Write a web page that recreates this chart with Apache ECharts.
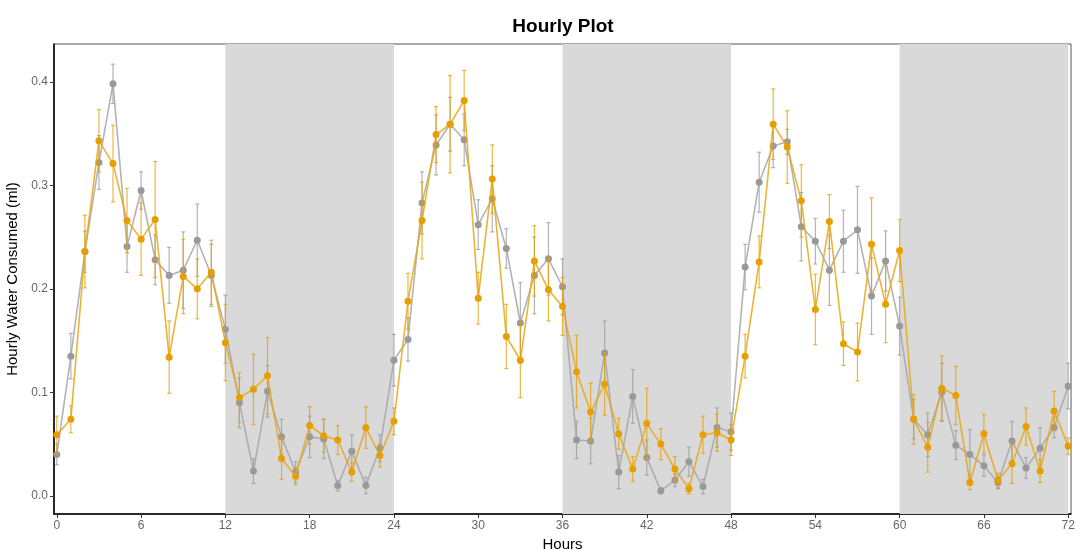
<!DOCTYPE html>
<html>
<head>
<meta charset="utf-8">
<script src="https://cdn.jsdelivr.net/npm/echarts@6/dist/echarts.min.js"></script>
<style>
  html, body { margin: 0; padding: 0; background: #fff; }
  #chart { width: 1076px; height: 551px; }
</style>
</head>
<body>
<div id="chart"></div>
<script>
// hours 0..72
const hours = Array.from({ length: 73 }, (_, i) => i);
const xTicks = [0, 6, 12, 18, 24, 30, 36, 42, 48, 54, 60, 66, 72];
const yTicks = [0, 0.1, 0.2, 0.3, 0.4];
// dark phases
const darkPeriods = [[12, 24], [36, 48], [60, 72]];

// grey group: mean and error
const greyMean = [
  0.040, 0.135, 0.236, 0.322, 0.398, 0.241, 0.295, 0.228, 0.213, 0.218, 0.247, 0.213,
  0.161, 0.090, 0.024, 0.101, 0.057, 0.023, 0.057, 0.055, 0.010, 0.043, 0.010, 0.046,
  0.131, 0.151, 0.283, 0.339, 0.359, 0.344, 0.262, 0.287, 0.239, 0.167, 0.213, 0.229,
  0.202, 0.054, 0.053, 0.138, 0.023, 0.096, 0.037, 0.005, 0.015, 0.033, 0.009, 0.066,
  0.062, 0.221, 0.303, 0.338, 0.342, 0.260, 0.246, 0.218, 0.246, 0.257, 0.193, 0.227,
  0.164, 0.074, 0.059, 0.100, 0.049, 0.040, 0.029, 0.013, 0.053, 0.027, 0.046, 0.066,
  0.106
];
const greyErr = [
  0.010, 0.022, 0.020, 0.026, 0.019, 0.025, 0.018, 0.024, 0.027, 0.037, 0.035, 0.030,
  0.033, 0.024, 0.012, 0.025, 0.017, 0.010, 0.020, 0.019, 0.005, 0.016, 0.008, 0.013,
  0.025, 0.021, 0.030, 0.029, 0.026, 0.025, 0.024, 0.032, 0.019, 0.039, 0.037, 0.035,
  0.027, 0.018, 0.022, 0.031, 0.016, 0.026, 0.017, 0.003, 0.006, 0.014, 0.007, 0.019,
  0.018, 0.022, 0.029, 0.021, 0.012, 0.033, 0.022, 0.034, 0.030, 0.042, 0.037, 0.029,
  0.028, 0.019, 0.021, 0.028, 0.014, 0.024, 0.010, 0.006, 0.019, 0.010, 0.020, 0.010,
  0.022
];

// orange group: mean and error
const orangeMean = [
  0.059, 0.074, 0.236, 0.343, 0.321, 0.266, 0.248, 0.267, 0.134, 0.212, 0.200, 0.216,
  0.148, 0.095, 0.103, 0.116, 0.036, 0.019, 0.068, 0.058, 0.054, 0.023, 0.066, 0.039,
  0.072, 0.188, 0.266, 0.349, 0.359, 0.382, 0.191, 0.306, 0.154, 0.131, 0.227, 0.199,
  0.183, 0.120, 0.081, 0.108, 0.060, 0.026, 0.070, 0.050, 0.026, 0.007, 0.059, 0.061,
  0.054, 0.135, 0.226, 0.359, 0.337, 0.285, 0.180, 0.265, 0.147, 0.139, 0.243, 0.185,
  0.237, 0.074, 0.047, 0.104, 0.097, 0.013, 0.060, 0.015, 0.031, 0.067, 0.024, 0.082,
  0.048
];
const orangeErr = [
  0.018, 0.013, 0.035, 0.030, 0.037, 0.031, 0.035, 0.056, 0.035, 0.036, 0.029, 0.031,
  0.037, 0.024, 0.034, 0.037, 0.020, 0.008, 0.018, 0.016, 0.014, 0.009, 0.020, 0.011,
  0.013, 0.027, 0.037, 0.027, 0.047, 0.029, 0.025, 0.033, 0.031, 0.036, 0.034, 0.030,
  0.028, 0.035, 0.028, 0.030, 0.015, 0.012, 0.034, 0.015, 0.012, 0.005, 0.018, 0.018,
  0.015, 0.021, 0.025, 0.034, 0.035, 0.035, 0.034, 0.026, 0.021, 0.028, 0.045, 0.037,
  0.030, 0.024, 0.024, 0.031, 0.028, 0.007, 0.019, 0.007, 0.019, 0.018, 0.011, 0.019,
  0.008
];

const GREY = '#999999';
const ORANGE = '#E69F00';

function errData(mean, err) {
  return hours.map((h, i) => [h, mean[i] - err[i], mean[i] + err[i]]);
}

function errorBars(color) {
  return function (params, api) {
    const top = api.coord([api.value(0), api.value(2)]);
    const bot = api.coord([api.value(0), api.value(1)]);
    const cap = 2;
    const style = { stroke: color, lineWidth: 1.2, opacity: 0.75 };
    return {
      type: 'group',
      children: [
        { type: 'line', shape: { x1: top[0], y1: top[1], x2: bot[0], y2: bot[1] }, style },
        { type: 'line', shape: { x1: top[0] - cap, y1: top[1], x2: top[0] + cap, y2: top[1] }, style },
        { type: 'line', shape: { x1: bot[0] - cap, y1: bot[1], x2: bot[0] + cap, y2: bot[1] }, style }
      ]
    };
  };
}

const chart = echarts.init(document.getElementById('chart'));

chart.setOption({
  animation: false,
  textStyle: { fontFamily: 'Liberation Sans, Arial, sans-serif' },
  title: {
    text: 'Hourly Plot',
    left: 558,
    textAlign: 'center',
    top: 12,
    textStyle: { fontSize: 19, fontWeight: 'bold', color: '#000' }
  },
  grid: {
    left: 54, right: 5, top: 44, bottom: 37,
    outerBoundsMode: 'none',
    containLabel: false,
    show: true, borderColor: '#555', borderWidth: 1, backgroundColor: '#fff'
  },
  xAxis: {
    type: 'value',
    min: -0.2,
    max: 72.2,
    name: 'Hours',
    nameLocation: 'middle',
    nameGap: 22,
    nameTextStyle: { fontSize: 15, color: '#000' },
    axisLine: { onZero: false, lineStyle: { color: '#000', width: 1.5 } },
    axisTick: { customValues: xTicks, length: 4, lineStyle: { color: '#333' } },
    axisLabel: { customValues: xTicks, color: '#666', fontSize: 12, margin: 6 },
    splitLine: { show: false }
  },
  yAxis: {
    type: 'value',
    min: -0.0175,
    max: 0.4365,
    name: 'Hourly Water Consumed (ml)',
    nameLocation: 'middle',
    nameGap: 26,
    nameTextStyle: { fontSize: 15, color: '#000' },
    axisLine: { show: true, onZero: false, lineStyle: { color: '#000', width: 1.5 } },
    axisTick: { show: true, customValues: yTicks, length: 4, lineStyle: { color: '#333' } },
    axisLabel: {
      customValues: yTicks, color: '#666', fontSize: 12, margin: 6,
      formatter: v => v.toFixed(1)
    },
    splitLine: { show: false }
  },
  series: [
    {
      name: 'shade',
      type: 'line',
      data: [],
      silent: true,
      markArea: {
        silent: true,
        itemStyle: { color: '#d9d9d9' },
        data: darkPeriods.map(p => [{ xAxis: p[0] }, { xAxis: p[1] }])
      }
    },
    {
      name: 'greyErr',
      type: 'custom',
      renderItem: errorBars(GREY),
      data: errData(greyMean, greyErr),
      z: 3
    },
    {
      name: 'grey',
      type: 'line',
      data: hours.map((h, i) => [h, greyMean[i]]),
      symbol: 'circle',
      symbolSize: 7,
      itemStyle: { color: GREY },
      lineStyle: { color: '#a6a6a6', width: 1.6, opacity: 0.85 },
      z: 4
    },
    {
      name: 'orangeErr',
      type: 'custom',
      renderItem: errorBars(ORANGE),
      data: errData(orangeMean, orangeErr),
      z: 5
    },
    {
      name: 'orange',
      type: 'line',
      data: hours.map((h, i) => [h, orangeMean[i]]),
      symbol: 'circle',
      symbolSize: 7,
      itemStyle: { color: ORANGE },
      lineStyle: { color: '#E8A713', width: 1.6, opacity: 0.85 },
      z: 6
    }
  ]
});
</script>
</body>
</html>
